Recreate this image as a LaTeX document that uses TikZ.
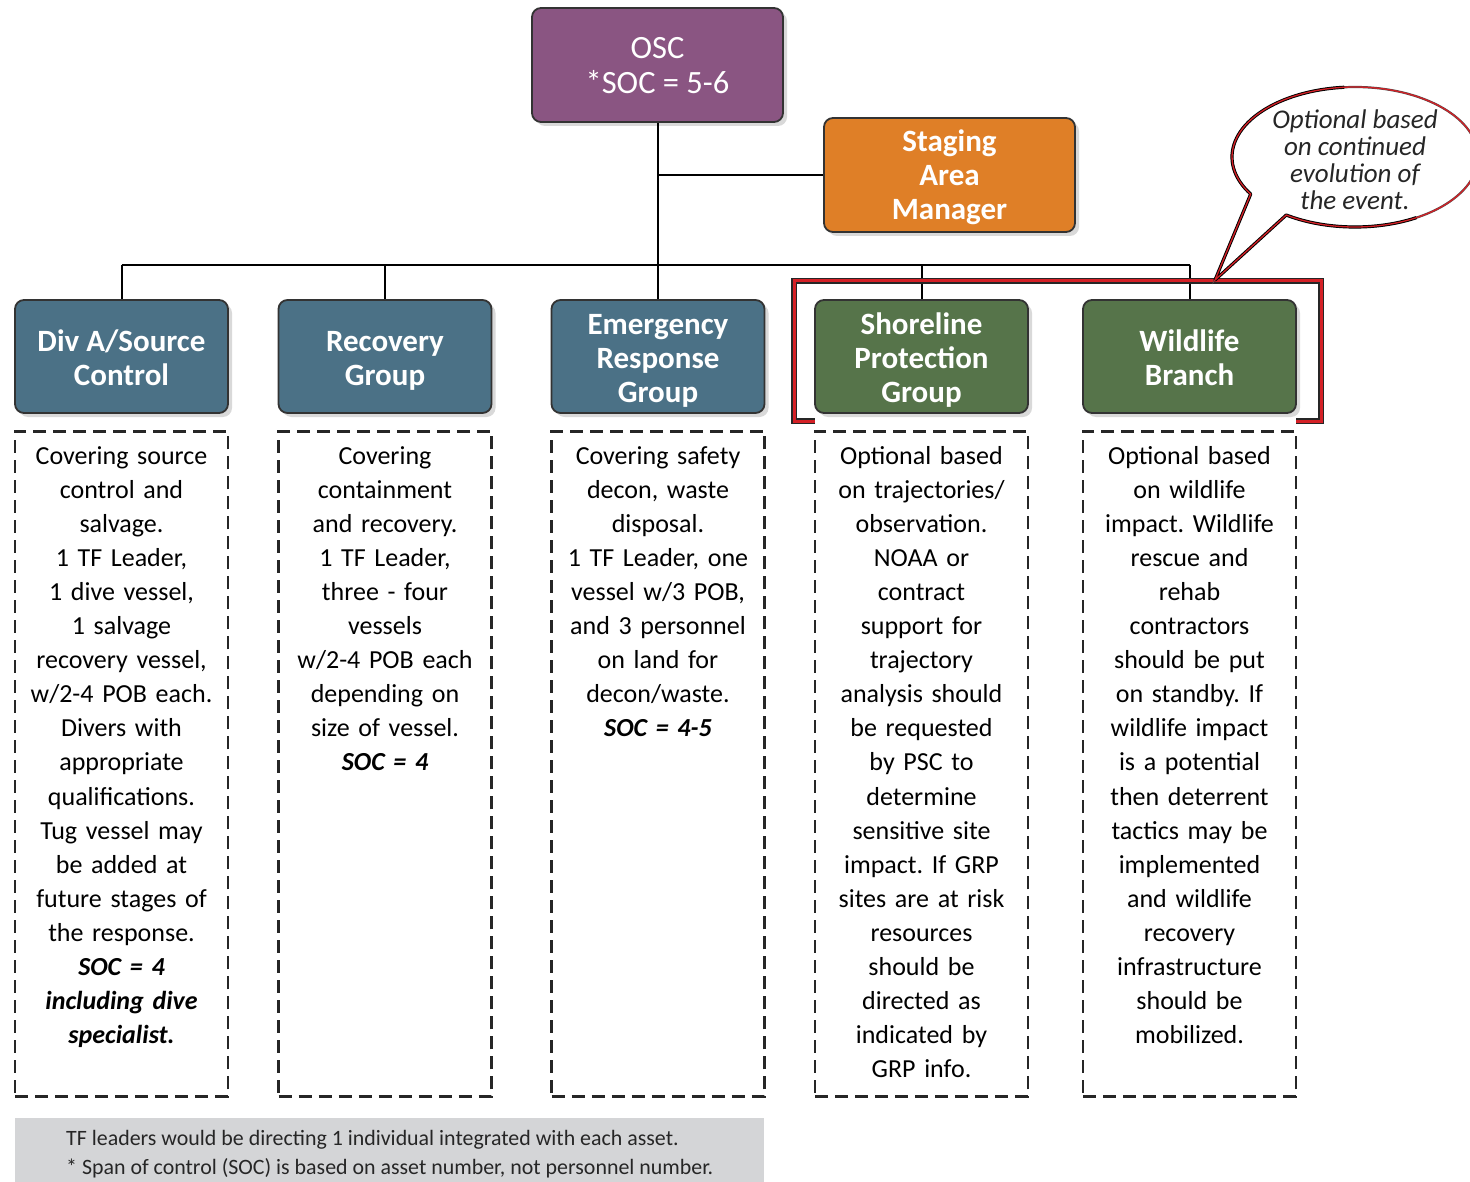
\documentclass[tikz,border=0pt]{standalone}
\usepackage{fontspec}
\setmainfont{Carlito}
\usetikzlibrary{shadows,calc}
\definecolor{oscc}{HTML}{8A5582}
\definecolor{orangec}{HTML}{DF7F27}
\definecolor{bluec}{HTML}{4B7186}
\definecolor{greenc}{HTML}{56744A}
\definecolor{notec}{HTML}{D4D5D7}
\definecolor{redc}{HTML}{D42026}
\tikzset{
  boxbase/.style={draw=black!80, line width=1.8pt, rounded corners=9pt, text=white, align=center, inner sep=0pt,
    drop shadow={shadow xshift=4pt, shadow yshift=-4pt, opacity=0.3}},
  hdr/.style={boxbase, minimum width=213pt, minimum height=113pt, font=\fontsize{31}{34}\selectfont\bfseries},
  topbox/.style={boxbase, minimum width=251pt, minimum height=114pt},
  dbox/.style={draw=black!85, line width=2.5pt, dash pattern=on 13pt off 7pt, minimum width=213pt, minimum height=665pt, inner sep=0pt},
  body/.style={anchor=north, align=center, text width=212pt, font=\fontsize{26}{34.1}\selectfont, inner sep=0pt},
  conn/.style={draw=black, line width=2pt},
  foot/.style={anchor=base west, inner sep=0pt, font=\fontsize{21.9}{29}\selectfont, text=black!85},
}
\newcommand{\bi}[1]{\textbf{\textit{#1}}}
\newcommand{\hs}[1]{\rule{0pt}{31pt}#1\rule[-8pt]{0pt}{8pt}}
\newcommand{\ts}[1]{\rule{0pt}{30pt}#1\rule[-8pt]{0pt}{8pt}}
\frenchspacing
\begin{document}
\begin{tikzpicture}[x=1pt,y=-1pt]
\useasboundingbox (0,0) rectangle (1470,1182);
\clip (0,0) rectangle (1470,1182);

% coordinates
\coordinate (bus) at (0,265);

% top boxes
\node[topbox, fill=oscc, font=\fontsize{32.5}{35}\selectfont] (osc) at (657.5,65) {\ts{OSC\\*SOC = 5-6}};
\node[topbox, fill=orangec, font=\fontsize{31}{34}\selectfont\bfseries] (stage) at (949.5,175) {\ts{Staging\\Area\\Manager}};

% header box centres
\path (121.5,356.5) coordinate (cA) (385,356.5) coordinate (cB) (658,356.5) coordinate (cC) (921.5,356.5) coordinate (cD) (1189.5,356.5) coordinate (cE);

% connectors
\draw[conn] (osc.south) -- (osc.south |- bus);
\draw[conn] (stage.west) -- (osc.south |- stage.west);
\draw[conn] (cA |- bus) -- (cE |- bus);
\foreach \c in {cA,cB,cC,cD,cE} \draw[conn] (\c |- bus) -- ([yshift=-40pt]\c);

% red bracket
\coordinate (brA) at (815,421);
\coordinate (brB) at (794,421);
\coordinate (brC) at (794,281);
\coordinate (brD) at (1321,281);
\coordinate (brE) at (1321,421);
\coordinate (brF) at (1296,421);
\draw[line width=6pt, black!85] (brA) -- (brB) -- (brC) -- (brD) -- (brE) -- (brF);
\draw[line width=3pt, redc] (brA) -- (brB) -- (brC) -- (brD) -- (brE) -- (brF);

% headers
\node[hdr, fill=bluec] (hA) at (cA) {\hs{Div A/Source\\Control}};
\node[hdr, fill=bluec] (hB) at (cB) {\hs{Recovery\\Group}};
\node[hdr, fill=bluec] (hC) at (cC) {\hs{Emergency\\Response\\Group}};
\node[hdr, fill=greenc] (hD) at (cD) {\hs{Shoreline\\Protection\\Group}};
\node[hdr, fill=greenc] (hE) at (cE) {\hs{Wildlife\\Branch}};

% dashed boxes
\foreach \c/\n in {cA/dA,cB/dB,cC/dC,cD/dD,cE/dE}
  \node[dbox, anchor=north] (\n) at ([yshift=-73.5pt]\c) {};

\node[body] (tA) at ([yshift=-10pt]dA.north) {\strut Covering source\\control and\\salvage.\\1 TF Leader,\\1 dive vessel,\\1 salvage\\recovery vessel,\\w/2-4 POB each.\\Divers with\\appropriate\\qualifications.\\Tug vessel may\\be added at\\future stages of\\the response.\\\bi{SOC = 4}\\\bi{including dive}\\\bi{specialist.}};
\node[body] (tB) at ([yshift=-10pt]dB.north) {\strut Covering\\containment\\and recovery.\\1 TF Leader,\\three - four\\vessels\\w/2-4 POB each\\depending on\\size of vessel.\\\bi{SOC = 4}};
\node[body] (tC) at ([yshift=-10pt]dC.north) {\strut Covering safety\\decon, waste\\disposal.\\1 TF Leader, one\\vessel w/3 POB,\\and 3 personnel\\on land for\\decon/waste.\\\bi{SOC = 4-5}};
\node[body] (tD) at ([yshift=-10pt]dD.north) {\strut Optional based\\on trajectories/\\observation.\\NOAA or\\contract\\support for\\trajectory\\analysis should\\be requested\\by PSC to\\determine\\sensitive site\\impact. If GRP\\sites are at risk\\resources\\should be\\directed as\\indicated by\\GRP info.};
\node[body] (tE) at ([yshift=-10pt]dE.north) {\strut Optional based\\on wildlife\\impact. Wildlife\\rescue and\\rehab\\contractors\\should be put\\on standby. If\\wildlife impact\\is a potential\\then deterrent\\tactics may be\\implemented\\and wildlife\\recovery\\infrastructure\\should be\\mobilized.};

% callout
\coordinate (tip) at (1215,280);
\coordinate (ellc) at (1355,157);
\path[fill=white, draw=black!70, line width=2.2pt]
  (tip) -- ($(ellc)+(-124:123pt and 70pt)$) arc[start angle=-124, end angle=212, x radius=123pt, y radius=70pt] -- cycle;
\draw[black, line width=3.2pt, line join=round]
  ($(ellc)+(-60:123pt and 70pt)$) arc[start angle=-60, end angle=-124, x radius=123pt, y radius=70pt]
  -- (tip) -- ($(ellc)+(212:123pt and 70pt)$) arc[start angle=212, end angle=95, x radius=123pt, y radius=70pt];
\path[draw=redc, line width=1.3pt]
  (tip) -- ($(ellc)+(-124:123pt and 70pt)$) arc[start angle=-124, end angle=212, x radius=123pt, y radius=70pt] -- cycle;
\node[align=center, inner sep=0pt, font=\fontsize{27}{27}\selectfont\itshape, text=black!85] (callt) at (1355,160) {Optional based\\on continued\\evolution of\\the event.};

% footnote
\node[fill=notec, anchor=north west, minimum width=749pt, minimum height=70pt, inner sep=0pt] (note) at (15,1118) {};
\node[foot] (f1) at (66,1145) {TF leaders would be directing 1 individual integrated with each asset.};
\node[foot] (f2) at (66,1174) {* Span of control (SOC) is based on asset number, not personnel number.};
\end{tikzpicture}
\end{document}
